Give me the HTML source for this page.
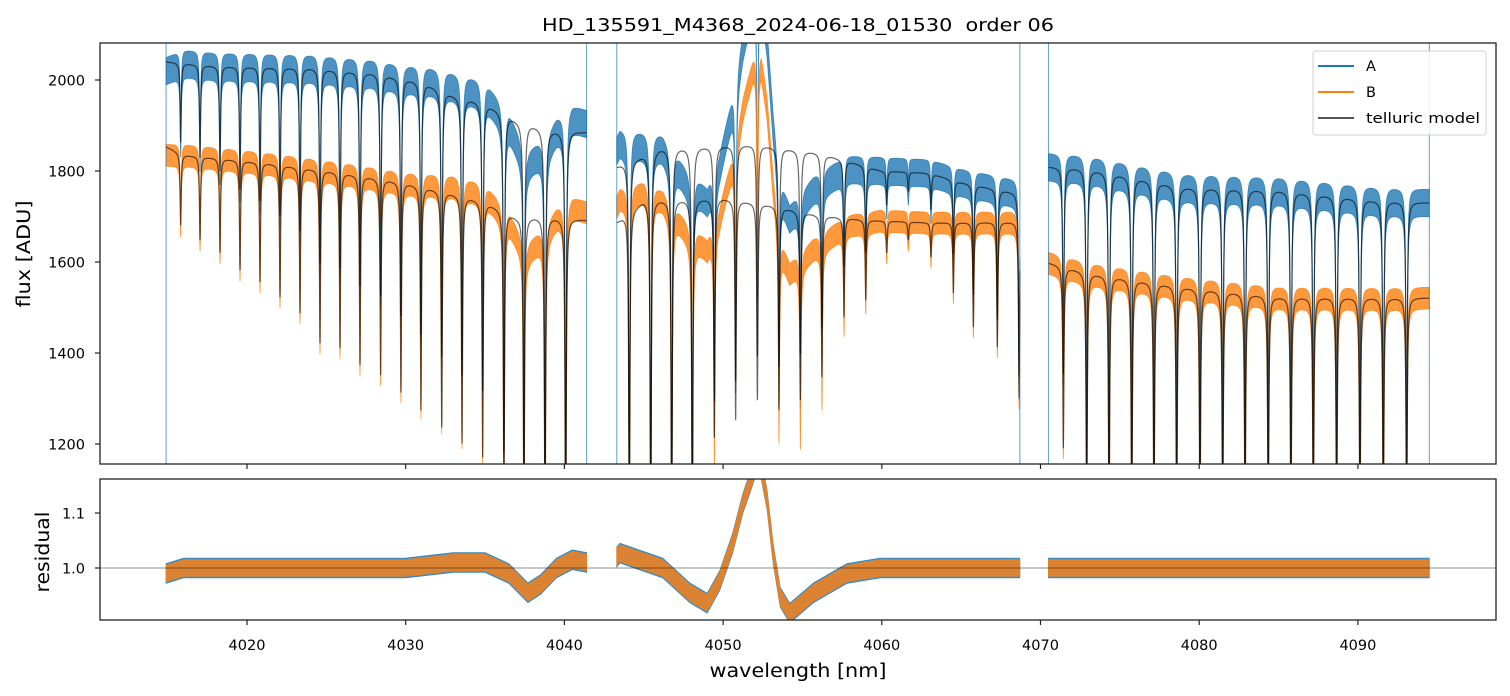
<!DOCTYPE html>
<html><head><meta charset="utf-8">
<style>
body{margin:0;background:#fff;}
svg{display:block;font-family:"DejaVu Sans","Liberation Sans",sans-serif;}
</style></head>
<body>
<svg id="chart" width="1510" height="696" viewBox="0 0 1510 696">
<defs>
<clipPath id="clipTop"><rect x="100" y="43" width="1396" height="421"/></clipPath>
<clipPath id="clipBot"><rect x="100" y="479" width="1396" height="141"/></clipPath>
</defs>
<rect width="1510" height="696" fill="#fff"/>
<text x="798" y="31" text-anchor="middle" font-size="18" textLength="512" lengthAdjust="spacingAndGlyphs" style="white-space:pre">HD_135591_M4368_2024-06-18_01530  order 06</text>
<g id="topPlot" clip-path="url(#clipTop)"></g>
<g id="botPlot" clip-path="url(#clipBot)"></g>
<g id="axes"></g>
<text x="0" y="0" transform="translate(30,254) rotate(-90)" text-anchor="middle" font-size="18.5" textLength="107" lengthAdjust="spacingAndGlyphs">flux [ADU]</text>
<text x="0" y="0" transform="translate(49,552) rotate(-90)" text-anchor="middle" font-size="18.5" textLength="81" lengthAdjust="spacingAndGlyphs">residual</text>
<text x="798" y="677" text-anchor="middle" font-size="18.5" textLength="177" lengthAdjust="spacingAndGlyphs">wavelength [nm]</text>
<g>
<rect x="1313" y="51" width="173" height="84" rx="3" fill="#fff" fill-opacity="0.85" stroke="#d0d0d0"/>
<line x1="1318" y1="66" x2="1354" y2="66" stroke="#1f77b4" stroke-width="2"/>
<text x="1366" y="71" font-size="14.5">A</text>
<line x1="1318" y1="92" x2="1354" y2="92" stroke="#ff7f0e" stroke-width="2"/>
<text x="1366" y="97" font-size="14.5">B</text>
<line x1="1318" y1="118" x2="1354" y2="118" stroke="#555" stroke-width="2"/>
<text x="1366" y="123" font-size="14.5" textLength="114" lengthAdjust="spacingAndGlyphs">telluric model</text>
</g>
</svg>
<script>
// ---- data ----
const segStart = [4014.9, 4043.3, 4070.5];
const segEnd   = [4041.4, 4068.7, 4094.5];
const contAWl  = [4014.9,4018,4024,4028,4031,4033,4035,4037,4039,4041.4, 4043.3,4046,4052,4056,4060,4063,4065,4068.7, 4070.5,4073,4079,4085,4091,4094.5];
const contAVal = [2040,2030,2026,2015,1996,1967,1949,1912,1890,1885, 1810,1850,1858,1840,1800,1795,1775,1750, 1809,1805,1765,1758,1736,1730];
const contBWl  = [4014.9,4016,4021,4026,4030,4033,4035,4037,4039,4041.4, 4043.3,4045,4050,4053,4056,4059,4063,4068.7, 4070.5,4073,4079,4085,4094.5];
const contBVal = [1853,1835,1818,1796,1774,1750,1732,1699,1699,1692, 1688,1736,1740,1725,1703,1692,1686,1688, 1598,1576,1545,1523,1521];
const lineWl   = [4015.82,4017.04,4018.30,4019.56,4020.82,4022.08,4023.34,4024.60,4025.86,4027.12,4028.42,4029.70,4030.96,4032.27,4033.55,4034.85,4036.19,4037.45,4038.78,4040.08,
                  4044.09,4045.44,4046.76,4048.06,4049.45,4050.79,4052.16,4053.52,4054.87,4056.23,4057.62,4058.99,4060.31,4061.67,4063.10,4064.51,4065.77,4067.28,4068.65,
                  4071.44,4072.91,4074.32,4075.75,4077.15,4078.58,4080.05,4081.48,4082.89,4084.35,4085.78,4087.19,4088.66,4090.13,4091.60,4093.07];
const lineMinB = [1681,1648,1620,1582,1556,1523,1488,1422,1411,1374,1352,1314,1275,1237,1202,1171,1050,1000,960,950,
                  1000,980,980,980,1215,1253,1297,1275,1297,1347,1479,1516,1620,1648,1611,1532,1457,1413,1300,
                  1191,1000,980,980,980,980,980,980,980,980,980,980,980,980,980,980];
const residWl  = [4014.9,4016,4030,4033,4035,4036.5,4037.7,4038.5,4039.5,4040.5,4041.4, 4043.3,4043.5,4046.2,4047.9,4049.0,4049.8,4050.6,4051.25,4051.7,4052.1,4052.4,4052.77,4053.15,4053.6,4054.2,4055.7,4057.8,4059.9,4068.7, 4070.5,4094.5];
const residVal = [0.99,1.0,1.0,1.01,1.01,0.99,0.955,0.97,1.0,1.015,1.01, 1.02,1.027,1.0,0.955,0.936,0.978,1.045,1.118,1.155,1.19,1.18,1.124,1.027,0.947,0.918,0.955,0.99,1.0,1.0, 1.0,1.0];
const yTicksTop = [1200,1400,1600,1800,2000];
const yTicksBot = [1.0,1.1];
const xTicks = [4020,4030,4040,4050,4060,4070,4080,4090];

// ---- axes functions ----
const X = l => 247 + (l-4020)*15.87;
const YT = f => 80 + (2000-f)*0.455;
const YB = r => 568 - (r-1)*550;
function interp(xs, ys, x){
  if (x<=xs[0]) return ys[0];
  for (let i=1;i<xs.length;i++) if (x<=xs[i]) { const t=(x-xs[i-1])/(xs[i]-xs[i-1]); return ys[i-1]+t*(ys[i]-ys[i-1]); }
  return ys[ys.length-1];
}
const contA = l => interp(contAWl, contAVal, l);
const contB = l => interp(contBWl, contBVal, l);
const resid = l => interp(residWl, residVal, l);
const gam = 0.04;
const tau0 = lineWl.map((w,i)=> Math.max(0.001, -Math.log(Math.min(0.999, lineMinB[i]/contB(w)))));
function trans(l){ let t=0; for (let i=0;i<lineWl.length;i++){ const d=l-lineWl[i]; if (Math.abs(d)<1.5) t+=tau0[i]*gam*gam/(d*d+gam*gam);} return Math.exp(-t); }

const NS='http://www.w3.org/2000/svg';
function mk(tag, attrs, parent){ const e=document.createElementNS(NS,tag); for (const k in attrs) e.setAttribute(k, attrs[k]); parent.appendChild(e); return e; }
const topG = document.getElementById('topPlot'), botG = document.getElementById('botPlot'), axesG = document.getElementById('axes');
const step = 0.01;

function band(parent, fn, half, yf, color, op, name){
  for (let s=0;s<segStart.length;s++){
    const up=[], lo=[];
    for (let l=segStart[s]; l<=segEnd[s]+1e-9; l+=step){ const v=fn(l); up.push(X(l).toFixed(2)+','+yf(v+half).toFixed(2)); lo.push(X(l).toFixed(2)+','+yf(v-half).toFixed(2)); }
    const p = mk('polygon', {points: up.concat(lo.reverse()).join(' '), fill: color, 'fill-opacity': op, stroke: color, 'stroke-width': 0.8, 'stroke-opacity': op}, parent);
    
    
  }
}
function line(parent, fn, yf, color, op, w, name){
  for (let s=0;s<segStart.length;s++){
    const pts=[];
    for (let l=segStart[s]; l<=segEnd[s]+1e-9; l+=step) pts.push(X(l).toFixed(2)+','+yf(fn(l)).toFixed(2));
    const p = mk('polyline', {points: pts.join(' '), fill:'none', stroke: color, 'stroke-opacity': op, 'stroke-width': w}, parent);
    
    
  }
}
// top panel
const modelA = l => contA(l)*trans(l), modelB = l => contB(l)*trans(l);
band(topG, l=>modelA(l)*resid(l), 30, YT, '#1f77b4', 0.8, 'series-a-flux');
band(topG, l=>modelB(l)*resid(l), 24, YT, '#ff7f0e', 0.8, 'series-b-flux');
line(topG, modelA, YT, '#000', 0.6, 1.2, 'telluric-model-a');
line(topG, modelB, YT, '#000', 0.6, 1.2, 'telluric-model-b');
for (let s=0;s<segStart.length;s++){
  [segStart[s], segEnd[s]].forEach(l=>{
    const e = mk('line', {x1:X(l), x2:X(l), y1:43, y2:464, stroke:'#1f77b4', 'stroke-width':1, 'stroke-opacity':0.7}, topG);
    
    
  });
}
// bottom panel
band(botG, l=>resid(l), 0.018, YB, '#1f77b4', 0.8, 'residual-a');
band(botG, l=>resid(l), 0.015, YB, '#ff7f0e', 0.8, 'residual-b');
const ref = mk('line', {x1:100, x2:1496, y1:YB(1), y2:YB(1), stroke:'#000', 'stroke-width':0.8, 'stroke-opacity':0.6}, botG);



// frames & ticks
[[43,464,'flux-axes-frame'],[479,620,'residual-axes-frame']].forEach(([a,b,n])=>{
  const r = mk('rect', {x:100, y:a, width:1396, height:b-a, fill:'none', stroke:'#222', 'stroke-width':1.3}, axesG);
  
  
});
yTicksTop.forEach(v=>{
  mk('line', {x1:95, x2:100, y1:YT(v), y2:YT(v), stroke:'#222', 'stroke-width':1.2}, axesG);
  const t = mk('text', {x:85, y:YT(v)+5.5, 'text-anchor':'end', 'font-size':14.5}, axesG); t.textContent=v;
  
  
});
yTicksBot.forEach(v=>{
  mk('line', {x1:95, x2:100, y1:YB(v), y2:YB(v), stroke:'#222', 'stroke-width':1.2}, axesG);
  const t = mk('text', {x:85, y:YB(v)+5.5, 'text-anchor':'end', 'font-size':14.5}, axesG); t.textContent=v.toFixed(1);
  
  
});
xTicks.forEach(v=>{
  mk('line', {x1:X(v), x2:X(v), y1:464, y2:469, stroke:'#222', 'stroke-width':1.2}, axesG);
  mk('line', {x1:X(v), x2:X(v), y1:620, y2:625, stroke:'#222', 'stroke-width':1.2}, axesG);
  const t = mk('text', {x:X(v), y:650, 'text-anchor':'middle', 'font-size':14.5}, axesG); t.textContent=v;
  
  
});
</script>
</body></html>
